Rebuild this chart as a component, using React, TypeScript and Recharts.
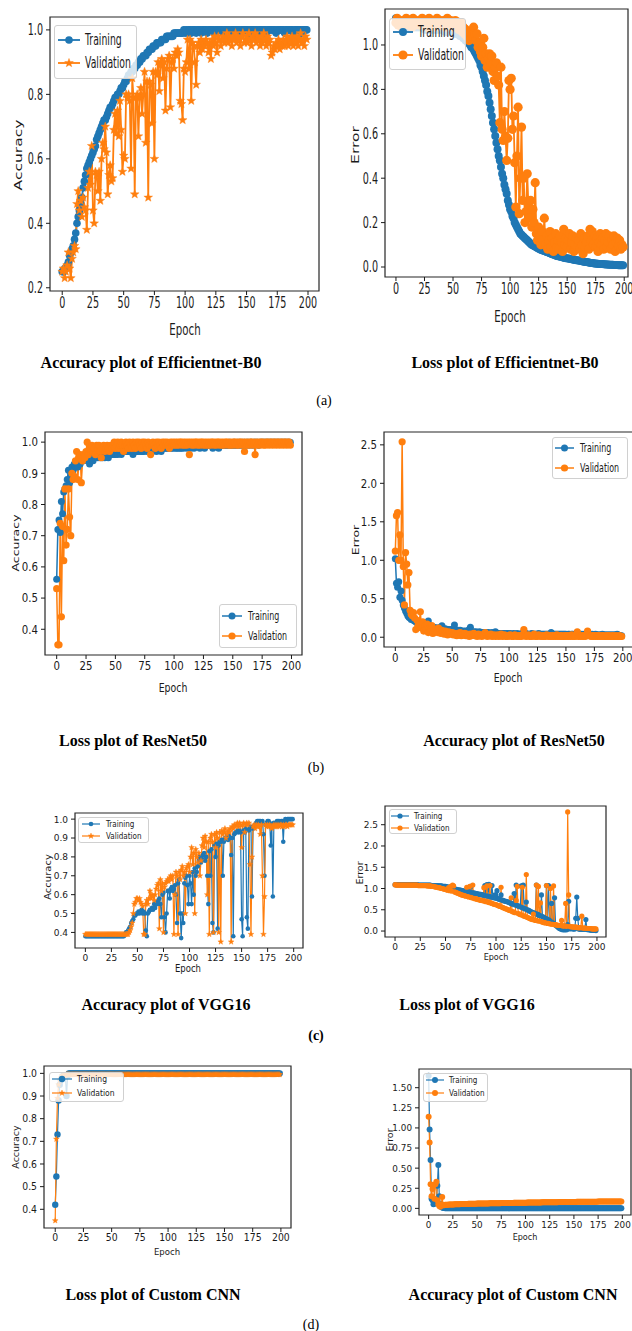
import React from 'react';
import { LineChart, Line, XAxis, YAxis, ReferenceArea } from 'recharts';

const BLUE = '#1f77b4';
const ORANGE = '#ff7f0e';
const INK = '#1a1a1a';
const FONT = '"DejaVu Sans", sans-serif';
const SERIF = '"Liberation Serif", "Times New Roman", serif';

const EPOCH_TICKS = [0, 25, 50, 75, 100, 125, 150, 175, 200];
const ACC_TICKS_A = [0.2, 0.4, 0.6, 0.8, 1.0];
const ACC_TICKS = [0.4, 0.5, 0.6, 0.7, 0.8, 0.9, 1.0];
const LOSS_TICKS_A = [0.0, 0.2, 0.4, 0.6, 0.8, 1.0];
const LOSS_TICKS = [0.0, 0.5, 1.0, 1.5, 2.0, 2.5];
const LOSS_TICKS_D = [0.0, 0.25, 0.5, 0.75, 1.0, 1.25, 1.5];

// (a) Efficientnet-B0
const effAccTrain = [
  0.25, 0.25, 0.26, 0.26, 0.27, 0.28, 0.30, 0.31, 0.32, 0.33,
  0.35, 0.37, 0.40, 0.42, 0.44, 0.46, 0.48, 0.51, 0.53, 0.55,
  0.57, 0.58, 0.59, 0.60, 0.61, 0.62, 0.63, 0.64, 0.66, 0.67,
  0.68, 0.69, 0.70, 0.71, 0.72, 0.72, 0.73, 0.74, 0.75, 0.76,
  0.76, 0.77, 0.78, 0.79, 0.79, 0.80, 0.80, 0.81, 0.82, 0.82,
  0.83, 0.84, 0.84, 0.85, 0.86, 0.86, 0.87, 0.87, 0.88, 0.88,
  0.89, 0.89, 0.90, 0.90, 0.91, 0.91, 0.92, 0.92, 0.92, 0.93,
  0.93, 0.94, 0.94, 0.94, 0.95, 0.95, 0.95, 0.96, 0.96, 0.96,
  0.96, 0.97, 0.97, 0.97, 0.97, 0.98, 0.98, 0.98, 0.98, 0.98,
  0.98, 0.99, 0.99, 0.99, 0.99, 0.99, 0.99, 0.99, 0.99, 1.0,
  0.99, 1.0, 0.99, 1.0, 1.0, 0.99, 1.0, 1.0, 1.0, 0.99,
  1.0, 1.0, 1.0, 0.99, 1.0, 1.0, 1.0, 1.0, 0.99, 1.0,
  1.0, 1.0, 1.0, 1.0, 0.99, 1.0, 1.0, 1.0, 1.0, 1.0,
  1.0, 0.99, 1.0, 1.0, 1.0, 1.0, 1.0, 0.99, 1.0, 1.0,
  1.0, 1.0, 1.0, 1.0, 1.0, 0.99, 1.0, 1.0, 1.0, 1.0,
  1.0, 1.0, 0.99, 1.0, 1.0, 1.0, 1.0, 1.0, 1.0, 0.99,
  1.0, 1.0, 1.0, 1.0, 1.0, 1.0, 0.99, 1.0, 1.0, 1.0,
  1.0, 1.0, 1.0, 1.0, 0.99, 1.0, 1.0, 1.0, 1.0, 1.0,
  1.0, 0.99, 1.0, 1.0, 1.0, 1.0, 1.0, 1.0, 0.99, 1.0,
  1.0, 1.0, 1.0, 1.0, 1.0, 0.99, 1.0, 1.0, 1.0, 1.0,
];
const effAccVal = [
  0.25, 0.26, 0.23, 0.25, 0.27, 0.31, 0.26, 0.23, 0.29, 0.31,
  0.33, 0.32, 0.46, 0.50, 0.44, 0.47, 0.42, 0.48, 0.45, 0.44,
  0.38, 0.51, 0.56, 0.52, 0.64, 0.44, 0.40, 0.56, 0.55, 0.50,
  0.56, 0.47, 0.60, 0.65, 0.63, 0.70, 0.62, 0.49, 0.55, 0.58,
  0.53, 0.54, 0.69, 0.74, 0.68, 0.75, 0.67, 0.78, 0.69, 0.56,
  0.61, 0.60, 0.80, 0.79, 0.80, 0.78, 0.57, 0.85, 0.79, 0.49,
  0.79, 0.80, 0.67, 0.79, 0.82, 0.74, 0.80, 0.87, 0.65, 0.84,
  0.48, 0.84, 0.83, 0.71, 0.87, 0.60, 0.87, 0.86, 0.90, 0.81,
  0.89, 0.91, 0.85, 0.90, 0.75, 0.88, 0.91, 0.92, 0.76, 0.90,
  0.91, 0.88, 0.93, 0.92, 0.94, 0.93, 0.78, 0.77, 0.72, 0.88,
  0.87, 0.90, 0.97, 0.88, 0.97, 0.78, 0.96, 0.95, 0.90, 0.83,
  0.95, 0.96, 0.93, 0.97, 0.94, 0.96, 0.95, 0.97, 0.96, 0.93,
  0.96, 0.91, 0.97, 0.95, 0.98, 0.96, 0.93, 0.98, 0.97, 0.95,
  0.97, 0.98, 0.96, 0.97, 0.99, 0.96, 0.98, 0.97, 0.95, 0.98,
  0.97, 0.99, 0.96, 0.98, 0.97, 0.95, 0.98, 0.99, 0.96, 0.97,
  0.98, 0.96, 0.99, 0.97, 0.95, 0.98, 0.97, 0.99, 0.96, 0.98,
  0.97, 0.95, 0.98, 0.96, 0.99, 0.97, 0.95, 0.98, 0.96, 0.97,
  0.92, 0.93, 0.95, 0.94, 0.96, 0.95, 0.97, 0.94, 0.96, 0.95,
  0.97, 0.95, 0.96, 0.98, 0.95, 0.97, 0.96, 0.98, 0.95, 0.97,
  0.96, 0.98, 0.95, 0.97, 0.99, 0.96, 0.97, 0.95, 0.98, 0.97,
];
const effLossTrain = [
  1.12, 1.10, 1.09, 1.09, 1.09, 1.08, 1.08, 1.08, 1.08, 1.08,
  1.08, 1.08, 1.08, 1.08, 1.08, 1.08, 1.08, 1.08, 1.08, 1.08,
  1.08, 1.08, 1.08, 1.08, 1.08, 1.07, 1.07, 1.07, 1.07, 1.07,
  1.07, 1.07, 1.07, 1.07, 1.07, 1.07, 1.07, 1.07, 1.07, 1.07,
  1.07, 1.07, 1.07, 1.06, 1.06, 1.06, 1.06, 1.06, 1.06, 1.06,
  1.06, 1.06, 1.05, 1.05, 1.05, 1.05, 1.04, 1.04, 1.04, 1.03,
  1.03, 1.02, 1.02, 1.01, 1.01, 1.00, 0.99, 0.99, 0.98, 0.97,
  0.96, 0.95, 0.94, 0.93, 0.91, 0.90, 0.88, 0.86, 0.84, 0.82,
  0.79, 0.77, 0.74, 0.71, 0.68, 0.65, 0.62, 0.59, 0.56, 0.53,
  0.50, 0.48, 0.45, 0.42, 0.40, 0.37, 0.35, 0.33, 0.30, 0.28,
  0.26, 0.25, 0.23, 0.22, 0.20, 0.19, 0.18, 0.17, 0.16, 0.15,
  0.145, 0.14, 0.135, 0.13, 0.125, 0.12, 0.115, 0.11, 0.105, 0.10,
  0.098, 0.095, 0.092, 0.089, 0.086, 0.083, 0.08, 0.078, 0.076, 0.074,
  0.072, 0.07, 0.068, 0.066, 0.064, 0.062, 0.06, 0.058, 0.056, 0.054,
  0.052, 0.05, 0.049, 0.048, 0.046, 0.045, 0.044, 0.042, 0.041, 0.04,
  0.039, 0.038, 0.037, 0.036, 0.035, 0.034, 0.033, 0.032, 0.031, 0.03,
  0.029, 0.028, 0.027, 0.026, 0.025, 0.024, 0.023, 0.022, 0.021, 0.02,
  0.019, 0.018, 0.018, 0.017, 0.016, 0.016, 0.015, 0.015, 0.014, 0.014,
  0.013, 0.013, 0.012, 0.012, 0.011, 0.011, 0.011, 0.01, 0.01, 0.01,
  0.01, 0.009, 0.009, 0.009, 0.009, 0.008, 0.008, 0.008, 0.008, 0.008,
];
const effLossVal = [
  1.10, 1.12, 1.09, 1.11, 1.10, 1.08, 1.11, 1.10, 1.09, 1.12,
  1.10, 1.09, 1.11, 1.10, 1.08, 1.12, 1.10, 1.09, 1.11, 1.10,
  1.09, 1.11, 1.10, 1.12, 1.09, 1.10, 1.11, 1.08, 1.10, 1.12,
  1.10, 1.09, 1.11, 1.10, 1.08, 1.10, 1.12, 1.09, 1.10, 1.11,
  1.09, 1.10, 1.11, 1.08, 1.10, 1.12, 1.09, 1.10, 1.11, 1.09,
  1.10, 1.08, 1.11, 1.09, 1.10, 1.07, 1.09, 1.10, 1.06, 1.08,
  1.05, 1.07, 1.04, 1.05, 1.02, 1.06, 1.03, 1.04, 1.08, 1.05,
  1.02, 1.05, 0.99, 1.01, 0.97, 0.95, 0.99, 1.03, 0.93, 0.96,
  0.90, 0.94, 0.96, 0.92, 0.95, 0.88, 0.84, 0.90, 0.92, 0.86,
  0.82, 0.65, 0.90, 0.62, 0.57, 0.70, 0.59, 0.48, 0.58, 0.84,
  0.80, 0.85, 0.62, 0.68, 0.47, 0.27, 0.50, 0.72, 0.24, 0.40,
  0.63, 0.30, 0.40, 0.20, 0.25, 0.42, 0.28, 0.22, 0.30, 0.18,
  0.26, 0.20, 0.38, 0.15, 0.12, 0.18, 0.14, 0.10, 0.16, 0.12,
  0.22, 0.10, 0.14, 0.08, 0.12, 0.16, 0.09, 0.13, 0.07, 0.11,
  0.15, 0.09, 0.12, 0.08, 0.14, 0.11, 0.07, 0.17, 0.10, 0.13,
  0.09, 0.12, 0.15, 0.08, 0.11, 0.14, 0.07, 0.10, 0.13, 0.09,
  0.12, 0.08, 0.15, 0.10, 0.06, 0.13, 0.09, 0.11, 0.14, 0.08,
  0.17, 0.12, 0.16, 0.10, 0.14, 0.09, 0.13, 0.07, 0.11, 0.15,
  0.10, 0.13, 0.08, 0.12, 0.15, 0.09, 0.11, 0.14, 0.08, 0.12,
  0.10, 0.14, 0.07, 0.11, 0.13, 0.09, 0.12, 0.08, 0.10, 0.09,
];

// (b) ResNet50
const resAccTrain = [
  0.56, 0.72, 0.75, 0.71, 0.81, 0.77, 0.84, 0.85, 0.86, 0.88,
  0.91, 0.87, 0.90, 0.92, 0.91, 0.93, 0.92, 0.93, 0.92, 0.94,
  0.93, 0.94, 0.95, 0.94, 0.95, 0.96, 0.95, 0.94, 0.93, 0.95,
  0.95, 0.94, 0.96, 0.95, 0.96, 0.95, 0.96, 0.95, 0.96, 0.95,
  0.96, 0.95, 0.96, 0.96, 0.95, 0.97, 0.96, 0.96, 0.97, 0.96,
  0.96, 0.97, 0.96, 0.97, 0.97, 0.96, 0.97, 0.97, 0.98, 0.97,
  0.97, 0.97, 0.98, 0.97, 0.97, 0.96, 0.97, 0.98, 0.97, 0.97,
  0.98, 0.97, 0.98, 0.97, 0.97, 0.98, 0.98, 0.97, 0.98, 0.98,
  0.98, 0.97, 0.98, 0.98, 0.98, 0.97, 0.98, 0.98, 0.98, 0.97,
  0.98, 0.98, 0.99, 0.98, 0.98, 0.98, 0.99, 0.98, 0.98, 0.99,
  0.98, 0.99, 0.98, 0.98, 0.99, 0.98, 0.98, 0.99, 0.98, 0.99,
  0.99, 0.98, 0.99, 0.99, 0.98, 0.99, 0.99, 0.98, 0.99, 0.99,
  0.99, 0.99, 0.98, 0.99, 0.99, 0.99, 0.98, 0.99, 0.99, 0.99,
  0.99, 0.99, 0.99, 0.98, 0.99, 0.99, 0.99, 0.99, 0.98, 0.99,
  0.99, 0.99, 0.99, 0.99, 0.99, 0.99, 0.99, 1.0, 0.99, 0.99,
  0.99, 1.0, 0.99, 0.99, 1.0, 0.99, 1.0, 0.99, 1.0, 0.99,
  1.0, 0.99, 1.0, 1.0, 0.99, 1.0, 1.0, 0.99, 1.0, 1.0,
  1.0, 1.0, 0.99, 1.0, 1.0, 1.0, 1.0, 1.0, 1.0, 1.0,
  1.0, 1.0, 1.0, 1.0, 1.0, 1.0, 1.0, 1.0, 1.0, 1.0,
  1.0, 1.0, 1.0, 1.0, 1.0, 1.0, 1.0, 1.0, 1.0, 1.0,
];
const resAccVal = [
  0.53, 0.35, 0.35, 0.74, 0.44, 0.73, 0.62, 0.85, 0.67, 0.72,
  0.85, 0.76, 0.70, 0.90, 0.88, 0.89, 0.94, 0.97, 0.88, 0.95,
  0.96, 0.87, 0.94, 0.96, 0.95, 0.97, 1.0, 0.96, 0.98, 0.97,
  0.99, 0.97, 0.98, 0.96, 0.99, 0.98, 0.99, 0.97, 0.95, 0.98,
  0.99, 0.97, 0.98, 0.99, 0.98, 0.97, 0.99, 0.98, 0.99, 1.0,
  0.98, 0.99, 1.0, 0.98, 0.99, 1.0, 0.99, 0.97, 0.99, 1.0,
  0.99, 0.98, 1.0, 0.99, 0.98, 1.0, 0.99, 0.98, 1.0, 0.99,
  1.0, 0.99, 0.98, 1.0, 0.99, 1.0, 0.99, 0.98, 1.0, 0.99,
  0.96, 0.99, 1.0, 0.99, 0.98, 1.0, 0.99, 1.0, 0.99, 0.98,
  1.0, 0.99, 1.0, 0.99, 1.0, 0.99, 0.98, 1.0, 0.99, 1.0,
  0.99, 1.0, 0.99, 1.0, 0.99, 1.0, 1.0, 0.99, 1.0, 0.99,
  1.0, 0.99, 1.0, 0.96, 1.0, 0.99, 1.0, 0.99, 1.0, 1.0,
  0.99, 1.0, 0.99, 1.0, 1.0, 0.99, 1.0, 0.99, 1.0, 0.99,
  1.0, 0.99, 1.0, 1.0, 0.99, 1.0, 0.99, 1.0, 1.0, 0.99,
  1.0, 0.99, 1.0, 0.99, 1.0, 1.0, 0.99, 1.0, 0.99, 1.0,
  0.99, 1.0, 1.0, 0.99, 1.0, 0.99, 1.0, 1.0, 0.99, 1.0,
  0.97, 1.0, 0.99, 1.0, 0.99, 1.0, 1.0, 0.99, 1.0, 0.96,
  1.0, 0.99, 1.0, 0.99, 1.0, 1.0, 0.99, 1.0, 0.99, 1.0,
  1.0, 0.99, 1.0, 1.0, 0.99, 1.0, 1.0, 0.99, 1.0, 1.0,
  0.99, 1.0, 1.0, 0.99, 1.0, 1.0, 0.99, 1.0, 1.0, 0.99,
];
const resLossTrain = [
  1.02, 0.70, 0.65, 0.72, 0.52, 0.60, 0.48, 0.42, 0.38, 0.34,
  0.31, 0.28, 0.26, 0.25, 0.23, 0.24, 0.22, 0.21, 0.20, 0.19,
  0.18, 0.17, 0.18, 0.16, 0.15, 0.16, 0.14, 0.15, 0.17, 0.21,
  0.14, 0.13, 0.14, 0.12, 0.13, 0.11, 0.12, 0.12, 0.11, 0.12,
  0.13, 0.15, 0.11, 0.10, 0.11, 0.10, 0.09, 0.10, 0.09, 0.10,
  0.09, 0.10, 0.16, 0.09, 0.08, 0.09, 0.08, 0.09, 0.08, 0.07,
  0.08, 0.07, 0.08, 0.07, 0.08, 0.10, 0.13, 0.07, 0.06, 0.07,
  0.06, 0.07, 0.06, 0.06, 0.07, 0.06, 0.05, 0.06, 0.06, 0.05,
  0.06, 0.05, 0.06, 0.05, 0.05, 0.06, 0.05, 0.05, 0.07, 0.05,
  0.05, 0.05, 0.04, 0.05, 0.05, 0.04, 0.05, 0.04, 0.05, 0.05,
  0.04, 0.05, 0.04, 0.04, 0.05, 0.04, 0.04, 0.05, 0.04, 0.04,
  0.04, 0.05, 0.04, 0.04, 0.04, 0.05, 0.04, 0.04, 0.04, 0.04,
  0.05, 0.04, 0.04, 0.04, 0.04, 0.04, 0.05, 0.04, 0.04, 0.04,
  0.04, 0.04, 0.04, 0.04, 0.04, 0.04, 0.04, 0.06, 0.04, 0.04,
  0.04, 0.04, 0.04, 0.04, 0.04, 0.04, 0.04, 0.04, 0.04, 0.04,
  0.04, 0.03, 0.04, 0.04, 0.03, 0.04, 0.04, 0.03, 0.04, 0.04,
  0.03, 0.04, 0.04, 0.03, 0.04, 0.03, 0.04, 0.03, 0.04, 0.05,
  0.04, 0.03, 0.03, 0.04, 0.03, 0.03, 0.04, 0.03, 0.03, 0.03,
  0.03, 0.03, 0.04, 0.03, 0.03, 0.03, 0.03, 0.03, 0.03, 0.03,
  0.03, 0.03, 0.03, 0.03, 0.03, 0.04, 0.03, 0.02, 0.02, 0.02,
];
const resLossVal = [
  1.12, 1.58, 1.62, 1.00, 1.33, 1.00, 2.54, 0.92, 0.42, 1.10,
  0.95, 0.68, 0.84, 0.35, 0.30, 0.28, 0.32, 0.25, 0.10, 0.22,
  0.15, 0.18, 0.33, 0.12, 0.20, 0.08, 0.14, 0.10, 0.17, 0.06,
  0.12, 0.09, 0.15, 0.05, 0.11, 0.07, 0.10, 0.06, 0.12, 0.08,
  0.05, 0.09, 0.07, 0.04, 0.08, 0.06, 0.03, 0.07, 0.05, 0.04,
  0.06, 0.03, 0.05, 0.04, 0.02, 0.05, 0.03, 0.06, 0.02, 0.04,
  0.03, 0.05, 0.02, 0.04, 0.03, 0.01, 0.04, 0.02, 0.03, 0.05,
  0.02, 0.03, 0.01, 0.04, 0.02, 0.03, 0.01, 0.03, 0.02, 0.06,
  0.02, 0.01, 0.03, 0.02, 0.04, 0.01, 0.02, 0.03, 0.01, 0.02,
  0.03, 0.01, 0.02, 0.04, 0.01, 0.02, 0.03, 0.01, 0.02, 0.01,
  0.02, 0.03, 0.01, 0.02, 0.01, 0.03, 0.02, 0.01, 0.02, 0.01,
  0.02, 0.01, 0.03, 0.10, 0.02, 0.01, 0.02, 0.03, 0.01, 0.02,
  0.01, 0.02, 0.04, 0.01, 0.02, 0.01, 0.03, 0.02, 0.01, 0.02,
  0.01, 0.02, 0.01, 0.03, 0.02, 0.01, 0.02, 0.01, 0.02, 0.01,
  0.02, 0.01, 0.03, 0.01, 0.02, 0.01, 0.02, 0.01, 0.01, 0.02,
  0.01, 0.02, 0.01, 0.02, 0.01, 0.03, 0.01, 0.02, 0.01, 0.02,
  0.07, 0.01, 0.02, 0.01, 0.02, 0.01, 0.02, 0.01, 0.03, 0.08,
  0.03, 0.02, 0.01, 0.02, 0.01, 0.02, 0.01, 0.02, 0.01, 0.02,
  0.01, 0.02, 0.01, 0.02, 0.01, 0.01, 0.02, 0.01, 0.02, 0.01,
  0.01, 0.02, 0.01, 0.01, 0.02, 0.01, 0.01, 0.02, 0.01, 0.01,
];

// (c) VGG16
const vggAccTrain = [
  0.38, 0.38, 0.38, 0.38, 0.38, 0.38, 0.38, 0.38, 0.38, 0.38,
  0.38, 0.38, 0.38, 0.38, 0.38, 0.38, 0.38, 0.38, 0.38, 0.38,
  0.38, 0.38, 0.38, 0.38, 0.38, 0.38, 0.38, 0.38, 0.38, 0.38,
  0.38, 0.38, 0.38, 0.38, 0.38, 0.38, 0.38, 0.38, 0.39, 0.40,
  0.40, 0.41, 0.42, 0.43, 0.45, 0.46, 0.47, 0.49, 0.49, 0.50,
  0.50, 0.51, 0.50, 0.51, 0.52, 0.50, 0.51, 0.50, 0.41, 0.38,
  0.50, 0.51, 0.52, 0.52, 0.53, 0.52, 0.55, 0.53, 0.56, 0.55,
  0.57, 0.58, 0.55, 0.48, 0.60, 0.61, 0.48, 0.40, 0.50, 0.62,
  0.62, 0.58, 0.63, 0.64, 0.62, 0.63, 0.65, 0.60, 0.45, 0.66,
  0.68, 0.50, 0.37, 0.50, 0.45, 0.66, 0.69, 0.70, 0.65, 0.55,
  0.70, 0.66, 0.55, 0.72, 0.60, 0.74, 0.70, 0.72, 0.75, 0.78,
  0.80, 0.77, 0.79, 0.81, 0.82, 0.78, 0.80, 0.70, 0.55, 0.83,
  0.70, 0.84, 0.45, 0.40, 0.86, 0.80, 0.87, 0.42, 0.86, 0.88,
  0.88, 0.89, 0.70, 0.88, 0.90, 0.90, 0.91, 0.89, 0.91, 0.90,
  0.81, 0.90, 0.38, 0.92, 0.93, 0.93, 0.94, 0.93, 0.94, 0.93,
  0.47, 0.38, 0.94, 0.93, 0.95, 0.48, 0.42, 0.94, 0.95, 0.96,
  0.59, 0.95, 0.96, 0.97, 0.98, 0.99, 0.99, 0.99, 0.99, 0.98,
  0.99, 0.92, 0.70, 0.97, 0.98, 0.99, 0.99, 0.98, 0.86, 0.97,
  0.59, 0.98, 0.97, 0.98, 0.99, 0.99, 0.99, 0.98, 0.99, 0.99,
  0.88, 0.99, 1.0, 0.99, 1.0, 1.0, 1.0, 1.0, 1.0, 1.0,
];
const vggAccVal = [
  0.39, 0.39, 0.39, 0.39, 0.39, 0.39, 0.39, 0.39, 0.39, 0.39,
  0.39, 0.39, 0.39, 0.39, 0.39, 0.39, 0.39, 0.39, 0.39, 0.39,
  0.39, 0.39, 0.39, 0.39, 0.39, 0.39, 0.39, 0.39, 0.39, 0.39,
  0.39, 0.39, 0.39, 0.39, 0.39, 0.39, 0.39, 0.39, 0.39, 0.39,
  0.39, 0.39, 0.40, 0.41, 0.43, 0.45, 0.50, 0.55, 0.56, 0.58,
  0.58, 0.57, 0.58, 0.56, 0.55, 0.54, 0.39, 0.39, 0.55, 0.57,
  0.55, 0.58, 0.62, 0.58, 0.60, 0.59, 0.57, 0.60, 0.63, 0.65,
  0.66, 0.42, 0.68, 0.62, 0.66, 0.40, 0.64, 0.66, 0.67, 0.68,
  0.67, 0.69, 0.70, 0.68, 0.70, 0.39, 0.60, 0.72, 0.70, 0.39,
  0.72, 0.68, 0.73, 0.75, 0.70, 0.72, 0.50, 0.74, 0.75, 0.76,
  0.72, 0.80, 0.85, 0.76, 0.82, 0.50, 0.84, 0.80, 0.77, 0.82,
  0.70, 0.78, 0.86, 0.90, 0.85, 0.91, 0.88, 0.60, 0.88, 0.39,
  0.90, 0.92, 0.88, 0.40, 0.92, 0.85, 0.93, 0.90, 0.40, 0.93,
  0.35, 0.94, 0.92, 0.93, 0.95, 0.90, 0.92, 0.94, 0.93, 0.95,
  0.35, 0.96, 0.95, 0.97, 0.96, 0.97, 0.98, 0.96, 0.98, 0.97,
  0.85, 0.97, 0.98, 0.93, 0.97, 0.98, 0.97, 0.98, 0.76, 0.39,
  0.80, 0.96, 0.97, 0.95, 0.97, 0.96, 0.97, 0.96, 0.92, 0.97,
  0.70, 0.39, 0.59, 0.97, 0.96, 0.97, 0.96, 0.97, 0.96, 0.95,
  0.96, 0.97, 0.96, 0.97, 0.96, 0.97, 0.96, 0.97, 0.97, 0.96,
  0.97, 0.96, 0.97, 0.97, 0.96, 0.97, 0.97, 0.97, 0.97, 0.97,
];
const vggLossTrain = [
  1.09, 1.09, 1.09, 1.09, 1.09, 1.09, 1.09, 1.09, 1.09, 1.09,
  1.09, 1.09, 1.09, 1.09, 1.09, 1.09, 1.09, 1.09, 1.09, 1.09,
  1.09, 1.09, 1.09, 1.08, 1.08, 1.08, 1.08, 1.08, 1.08, 1.08,
  1.08, 1.08, 1.08, 1.08, 1.08, 1.08, 1.07, 1.07, 1.07, 1.07,
  1.07, 1.07, 1.07, 1.06, 1.06, 1.06, 1.06, 1.05, 1.05, 1.05,
  1.05, 1.04, 1.04, 1.03, 1.03, 1.02, 1.02, 1.01, 1.00, 0.99,
  0.98, 0.98, 0.97, 0.97, 0.96, 0.96, 0.95, 0.95, 0.94, 0.94,
  0.93, 0.93, 0.92, 0.92, 0.91, 1.05, 0.90, 0.90, 0.89, 0.89,
  0.88, 0.88, 0.87, 0.87, 0.86, 0.86, 0.85, 0.85, 0.84, 1.07,
  0.83, 1.09, 0.82, 1.10, 0.81, 0.80, 1.07, 0.79, 0.78, 0.85,
  0.77, 0.95, 0.76, 0.75, 0.74, 0.85, 0.73, 0.72, 0.71, 0.70,
  0.70, 0.69, 0.68, 0.67, 0.66, 0.65, 0.64, 0.63, 0.88, 0.61,
  1.08, 0.60, 0.59, 0.58, 0.57, 1.06, 0.55, 1.08, 0.53, 0.52,
  0.68, 0.50, 0.49, 0.48, 0.46, 0.45, 0.44, 0.43, 0.42, 0.41,
  1.08, 0.40, 0.38, 0.37, 0.36, 0.85, 0.34, 0.33, 0.31, 0.30,
  1.07, 0.28, 1.07, 0.25, 0.23, 0.65, 0.20, 0.18, 0.78, 0.14,
  0.12, 0.10, 0.08, 0.06, 0.05, 0.04, 0.03, 0.03, 0.03, 0.03,
  0.03, 0.15, 0.70, 0.05, 0.06, 0.06, 0.05, 0.05, 0.05, 0.30,
  0.80, 0.30, 0.05, 0.04, 0.05, 0.04, 0.04, 0.05, 0.04, 0.27,
  0.04, 0.03, 0.03, 0.03, 0.02, 0.02, 0.02, 0.02, 0.02, 0.01,
];
const vggLossVal = [
  1.09, 1.08, 1.08, 1.08, 1.08, 1.08, 1.08, 1.08, 1.08, 1.08,
  1.08, 1.08, 1.08, 1.08, 1.08, 1.08, 1.08, 1.08, 1.08, 1.08,
  1.08, 1.08, 1.08, 1.07, 1.07, 1.07, 1.07, 1.07, 1.07, 1.07,
  1.07, 1.07, 1.06, 1.06, 1.06, 1.06, 1.05, 1.05, 1.05, 1.04,
  1.04, 1.03, 1.03, 1.02, 1.02, 1.01, 1.00, 1.00, 0.99, 0.98,
  0.98, 0.97, 0.96, 1.02, 0.95, 1.05, 0.94, 1.08, 1.06, 0.92,
  0.91, 0.90, 0.89, 0.88, 0.87, 0.86, 0.85, 0.84, 0.84, 0.83,
  0.82, 1.03, 0.81, 0.80, 1.05, 0.79, 0.78, 1.08, 0.77, 0.76,
  0.76, 0.75, 0.74, 0.74, 0.73, 0.72, 0.72, 0.71, 1.02, 0.70,
  0.69, 1.06, 0.68, 0.67, 1.07, 0.66, 0.65, 0.64, 0.63, 0.63,
  0.62, 0.61, 0.60, 0.59, 0.58, 1.03, 0.56, 0.55, 0.54, 0.53,
  0.52, 0.51, 0.50, 0.49, 0.48, 0.78, 0.46, 0.45, 0.44, 0.43,
  0.72, 1.05, 0.41, 0.40, 0.39, 0.38, 1.03, 0.36, 0.35, 0.34,
  1.33, 0.32, 0.31, 0.30, 0.29, 0.28, 0.27, 0.40, 0.26, 0.25,
  1.08, 0.24, 1.05, 0.23, 0.66, 0.22, 0.21, 0.20, 0.20, 0.19,
  1.07, 0.18, 0.18, 0.17, 1.00, 0.16, 0.16, 1.06, 0.15, 0.15,
  0.14, 0.14, 0.13, 0.13, 0.13, 0.25, 0.12, 0.12, 0.12, 0.65,
  0.11, 2.80, 0.85, 0.11, 0.10, 0.10, 0.10, 0.09, 0.09, 0.09,
  0.09, 0.08, 0.08, 0.08, 0.08, 0.35, 0.07, 0.07, 0.07, 0.07,
  0.06, 0.06, 0.06, 0.06, 0.06, 0.05, 0.05, 0.05, 0.05, 0.05,
];

// (d) Custom CNN
const cnnAccTrain = [
  0.42, 0.545, 0.73, 0.88, 0.95, 0.97, 0.98, 0.99, 0.99, 0.99,
  0.90, 0.99, 1, 1, 1, 1, 1, 1, 1, 1,
  1, 1, 1, 1, 1, 1, 1, 1, 1, 1,
  1, 1, 1, 1, 1, 1, 1, 1, 1, 1,
  1, 1, 1, 1, 1, 1, 1, 1, 1, 1,
  1, 1, 1, 1, 1, 1, 1, 1, 1, 1,
  1, 1, 1, 1, 1, 1, 1, 1, 1, 1,
  1, 1, 1, 1, 1, 1, 1, 1, 1, 1,
  1, 1, 1, 1, 1, 1, 1, 1, 1, 1,
  1, 1, 1, 1, 1, 1, 1, 1, 1, 1,
  1, 1, 1, 1, 1, 1, 1, 1, 1, 1,
  1, 1, 1, 1, 1, 1, 1, 1, 1, 1,
  1, 1, 1, 1, 1, 1, 1, 1, 1, 1,
  1, 1, 1, 1, 1, 1, 1, 1, 1, 1,
  1, 1, 1, 1, 1, 1, 1, 1, 1, 1,
  1, 1, 1, 1, 1, 1, 1, 1, 1, 1,
  1, 1, 1, 1, 1, 1, 1, 1, 1, 1,
  1, 1, 1, 1, 1, 1, 1, 1, 1, 1,
  1, 1, 1, 1, 1, 1, 1, 1, 1, 1,
  1, 1, 1, 1, 1, 1, 1, 1, 1, 1,
];
const cnnAccVal = [
  0.35, 0.71, 0.89, 0.95, 0.97, 0.98, 0.99, 0.99, 0.99, 0.99,
  0.995, 0.995, 0.995, 0.995, 0.995, 0.995, 0.995, 0.995, 0.995, 0.995,
  0.995, 0.995, 0.995, 0.995, 0.995, 0.995, 0.995, 0.995, 0.995, 0.995,
  0.995, 0.995, 0.995, 0.995, 0.995, 0.995, 0.995, 0.995, 0.995, 0.995,
  0.995, 0.995, 0.995, 0.995, 0.995, 0.995, 0.995, 0.995, 0.995, 0.995,
  0.995, 0.995, 0.995, 0.995, 0.995, 0.995, 0.995, 0.995, 0.995, 0.995,
  0.995, 0.995, 0.995, 0.995, 0.995, 0.995, 0.995, 0.995, 0.995, 0.995,
  0.995, 0.995, 0.995, 0.995, 0.995, 0.995, 0.995, 0.995, 0.995, 0.995,
  0.995, 0.995, 0.995, 0.995, 0.995, 0.995, 0.995, 0.995, 0.995, 0.995,
  0.995, 0.995, 0.995, 0.995, 0.995, 0.995, 0.995, 0.995, 0.995, 0.995,
  0.995, 0.995, 0.995, 0.995, 0.995, 0.995, 0.995, 0.995, 0.995, 0.995,
  0.995, 0.995, 0.995, 0.995, 0.995, 0.995, 0.995, 0.995, 0.995, 0.995,
  0.995, 0.995, 0.995, 0.995, 0.995, 0.995, 0.995, 0.995, 0.995, 0.995,
  0.995, 0.995, 0.995, 0.995, 0.995, 0.995, 0.995, 0.995, 0.995, 0.995,
  0.995, 0.995, 0.995, 0.995, 0.995, 0.995, 0.995, 0.995, 0.995, 0.995,
  0.995, 0.995, 0.995, 0.995, 0.995, 0.995, 0.995, 0.995, 0.995, 0.995,
  0.995, 0.995, 0.995, 0.995, 0.995, 0.995, 0.995, 0.995, 0.995, 0.995,
  0.995, 0.995, 0.995, 0.995, 0.995, 0.995, 0.995, 0.995, 0.995, 0.995,
  0.995, 0.995, 0.995, 0.995, 0.995, 0.995, 0.995, 0.995, 0.995, 0.995,
  0.995, 0.995, 0.995, 0.995, 0.995, 0.995, 0.995, 0.995, 0.995, 0.995,
];
const cnnLossTrain = [
  1.65, 0.98, 0.60, 0.12, 0.10, 0.05, 0.06, 0.08, 0.10, 0.28,
  0.54, 0.15, 0.05, 0.02, 0.01, 0.005, 0.003, 0.002, 0.002, 0.002,
  0.001, 0.001, 0.001, 0.001, 0.001, 0.001, 0.001, 0.001, 0.001, 0.001,
  0.001, 0.001, 0.001, 0.001, 0.001, 0.001, 0.001, 0.001, 0.001, 0.001,
  0.001, 0.001, 0.001, 0.001, 0.001, 0.001, 0.001, 0.001, 0.001, 0.001,
  0.001, 0.001, 0.001, 0.001, 0.001, 0.001, 0.001, 0.001, 0.001, 0.001,
  0.001, 0.001, 0.001, 0.001, 0.001, 0.001, 0.001, 0.001, 0.001, 0.001,
  0.001, 0.001, 0.001, 0.001, 0.001, 0.001, 0.001, 0.001, 0.001, 0.001,
  0.001, 0.001, 0.001, 0.001, 0.001, 0.001, 0.001, 0.001, 0.001, 0.001,
  0.001, 0.001, 0.001, 0.001, 0.001, 0.001, 0.001, 0.001, 0.001, 0.001,
  0.001, 0.001, 0.001, 0.001, 0.001, 0.001, 0.001, 0.001, 0.001, 0.001,
  0.001, 0.001, 0.001, 0.001, 0.001, 0.001, 0.001, 0.001, 0.001, 0.001,
  0.001, 0.001, 0.001, 0.001, 0.001, 0.001, 0.001, 0.001, 0.001, 0.001,
  0.001, 0.001, 0.001, 0.001, 0.001, 0.001, 0.001, 0.001, 0.001, 0.001,
  0.001, 0.001, 0.001, 0.001, 0.001, 0.001, 0.001, 0.001, 0.001, 0.001,
  0.001, 0.001, 0.001, 0.001, 0.001, 0.001, 0.001, 0.001, 0.001, 0.001,
  0.001, 0.001, 0.001, 0.001, 0.001, 0.001, 0.001, 0.001, 0.001, 0.001,
  0.001, 0.001, 0.001, 0.001, 0.001, 0.001, 0.001, 0.001, 0.001, 0.001,
  0.001, 0.001, 0.001, 0.001, 0.001, 0.001, 0.001, 0.001, 0.001, 0.001,
  0.001, 0.001, 0.001, 0.001, 0.001, 0.001, 0.001, 0.001, 0.001, 0.001,
];
const cnnLossVal = [
  1.14, 0.82, 0.30, 0.15, 0.24, 0.28, 0.12, 0.30, 0.33, 0.10,
  0.05, 0.03, 0.02, 0.05, 0.14, 0.04, 0.04, 0.045, 0.045, 0.045,
  0.046, 0.047, 0.047, 0.048, 0.048, 0.049, 0.049, 0.050, 0.050, 0.051,
  0.051, 0.052, 0.052, 0.053, 0.053, 0.054, 0.054, 0.054, 0.055, 0.055,
  0.055, 0.056, 0.056, 0.056, 0.057, 0.057, 0.057, 0.058, 0.058, 0.058,
  0.059, 0.059, 0.059, 0.060, 0.060, 0.060, 0.061, 0.061, 0.061, 0.062,
  0.062, 0.062, 0.062, 0.063, 0.063, 0.063, 0.063, 0.064, 0.064, 0.064,
  0.064, 0.065, 0.065, 0.065, 0.065, 0.066, 0.066, 0.066, 0.066, 0.067,
  0.067, 0.067, 0.067, 0.068, 0.068, 0.068, 0.068, 0.068, 0.069, 0.069,
  0.069, 0.069, 0.070, 0.070, 0.070, 0.070, 0.070, 0.071, 0.071, 0.071,
  0.071, 0.071, 0.072, 0.072, 0.072, 0.072, 0.072, 0.073, 0.073, 0.073,
  0.073, 0.073, 0.074, 0.074, 0.074, 0.074, 0.074, 0.075, 0.075, 0.075,
  0.075, 0.075, 0.075, 0.076, 0.076, 0.076, 0.076, 0.076, 0.077, 0.077,
  0.077, 0.077, 0.077, 0.077, 0.078, 0.078, 0.078, 0.078, 0.078, 0.078,
  0.079, 0.079, 0.079, 0.079, 0.079, 0.079, 0.080, 0.080, 0.080, 0.080,
  0.080, 0.080, 0.080, 0.081, 0.081, 0.081, 0.081, 0.081, 0.081, 0.081,
  0.082, 0.082, 0.082, 0.082, 0.082, 0.082, 0.082, 0.083, 0.083, 0.083,
  0.083, 0.083, 0.083, 0.083, 0.083, 0.084, 0.084, 0.084, 0.084, 0.084,
  0.084, 0.084, 0.084, 0.084, 0.085, 0.085, 0.085, 0.085, 0.085, 0.085,
  0.085, 0.085, 0.085, 0.085, 0.086, 0.086, 0.086, 0.086, 0.086, 0.086,
];

type LegendCfg = { x: number; y: number; w: number; h: number; rows: [number, number]; line: [number, number]; textX: number; fs: number; sx: number };
type Panel = {
  id: string;
  box: [number, number, number, number];
  xDomain: [number, number];
  yDomain: [number, number];
  yTicks: number[];
  digits: number;
  yLabel: string;
  yLabelPos: [number, number];
  xLabelPos: [number, number];
  labelFs: number;
  labelSx: number;
  tickFs: number;
  tickSx: number;
  train: number[];
  val: number[];
  valStar: boolean;
  rTrain: number;
  rVal: number;
  lw: number;
  legend: LegendCfg;
};

const STD_X: [number, number] = [-9.95, 208.95];

const panels: Panel[] = [
  {
    id: 'effAcc', box: [50, 17, 319, 291], xDomain: STD_X, yDomain: [0.19, 1.04], yTicks: ACC_TICKS_A, digits: 1,
    yLabel: 'Accuracy', yLabelPos: [19, 155], xLabelPos: [185, 331], labelFs: 15.5, labelSx: 0.66, tickFs: 15, tickSx: 0.64,
    train: effAccTrain, val: effAccVal, valStar: true, rTrain: 3.8, rVal: 4.6, lw: 1.8,
    legend: { x: 54, y: 25, w: 83, h: 54, rows: [40, 63], line: [58, 80], textX: 85, fs: 15, sx: 0.62 },
  },
  {
    id: 'effLoss', box: [385, 9, 628, 277], xDomain: [-9.6, 203.3], yDomain: [-0.045, 1.162], yTicks: LOSS_TICKS_A, digits: 1,
    yLabel: 'Error', yLabelPos: [356, 145], xLabelPos: [510, 318], labelFs: 15.5, labelSx: 0.66, tickFs: 15, tickSx: 0.64,
    train: effLossTrain, val: effLossVal, valStar: false, rTrain: 4, rVal: 4.6, lw: 1.8,
    legend: { x: 389, y: 18, w: 77, h: 52, rows: [32, 55], line: [393, 413], textX: 418, fs: 15, sx: 0.62 },
  },
  {
    id: 'resAcc', box: [45, 432, 302, 655], xDomain: STD_X, yDomain: [0.3175, 1.0325], yTicks: ACC_TICKS, digits: 1,
    yLabel: 'Accuracy', yLabelPos: [16, 543], xLabelPos: [173, 688], labelFs: 12.5, labelSx: 0.75, tickFs: 12, tickSx: 0.85,
    train: resAccTrain, val: resAccVal, valStar: false, rTrain: 3.5, rVal: 3.6, lw: 1.5,
    legend: { x: 219, y: 604, w: 78, h: 44, rows: [616, 636], line: [222, 242], textX: 248, fs: 12, sx: 0.66 },
  },
  {
    id: 'resLoss', box: [384, 432, 633, 647], xDomain: STD_X, yDomain: [-0.127, 2.667], yTicks: LOSS_TICKS, digits: 1,
    yLabel: 'Error', yLabelPos: [356, 540], xLabelPos: [508, 678], labelFs: 12.5, labelSx: 0.75, tickFs: 12, tickSx: 0.85,
    train: resLossTrain, val: resLossVal, valStar: false, rTrain: 3.5, rVal: 3.6, lw: 1.5,
    legend: { x: 552, y: 437, w: 76, h: 42, rows: [448, 468], line: [555, 574], textX: 580, fs: 12, sx: 0.66 },
  },
  {
    id: 'vggAcc', box: [75, 813, 303, 948], xDomain: STD_X, yDomain: [0.3175, 1.0325], yTicks: ACC_TICKS, digits: 1,
    yLabel: 'Accuracy', yLabelPos: [48, 877], xLabelPos: [188, 969], labelFs: 10, labelSx: 0.85, tickFs: 9.5, tickSx: 0.95,
    train: vggAccTrain, val: vggAccVal, valStar: true, rTrain: 2.3, rVal: 3, lw: 1.2,
    legend: { x: 78, y: 817, w: 71, h: 26, rows: [824, 836], line: [82, 100], textX: 106, fs: 9, sx: 0.8 },
  },
  {
    id: 'vggLoss', box: [385, 806, 606, 937], xDomain: STD_X, yDomain: [-0.14, 2.94], yTicks: LOSS_TICKS, digits: 1,
    yLabel: 'Error', yLabelPos: [360, 873], xLabelPos: [496, 957], labelFs: 9.5, labelSx: 0.85, tickFs: 9.5, tickSx: 0.95,
    train: vggLossTrain, val: vggLossVal, valStar: false, rTrain: 2.6, rVal: 2.6, lw: 1.2,
    legend: { x: 389, y: 809, w: 68, h: 25, rows: [816, 828], line: [391, 409], textX: 414, fs: 9, sx: 0.8 },
  },
  {
    id: 'cnnAcc', box: [44, 1066, 291, 1228], xDomain: STD_X, yDomain: [0.3175, 1.0325], yTicks: ACC_TICKS, digits: 1,
    yLabel: 'Accuracy', yLabelPos: [16, 1147], xLabelPos: [167, 1252], labelFs: 9.5, labelSx: 0.9, tickFs: 10, tickSx: 0.93,
    train: cnnAccTrain, val: cnnAccVal, valStar: true, rTrain: 3.2, rVal: 3, lw: 1.2,
    legend: { x: 49, y: 1072, w: 75, h: 30, rows: [1079, 1093], line: [52, 72], textX: 77, fs: 9.5, sx: 0.8 },
  },
  {
    id: 'cnnLoss', box: [419, 1069, 631, 1215], xDomain: STD_X, yDomain: [-0.0825, 1.7325], yTicks: LOSS_TICKS_D, digits: 2,
    yLabel: 'Error', yLabelPos: [390, 1140], xLabelPos: [525, 1237], labelFs: 9.5, labelSx: 0.85, tickFs: 9.5, tickSx: 0.93,
    train: cnnLossTrain, val: cnnLossVal, valStar: false, rTrain: 3, rVal: 3, lw: 1.2,
    legend: { x: 423, y: 1073, w: 65, h: 29, rows: [1080, 1093], line: [426, 444], textX: 449, fs: 9, sx: 0.8 },
  },
];

const captions = [
  { text: 'Accuracy plot of Efficientnet-B0', x: 151, y: 363, bold: true, fs: 16 },
  { text: 'Loss plot of Efficientnet-B0', x: 505, y: 363, bold: true, fs: 16 },
  { text: '(a)', x: 324, y: 401, bold: false, fs: 14 },
  { text: 'Loss plot of ResNet50', x: 133, y: 741, bold: true, fs: 16 },
  { text: 'Accuracy plot of ResNet50', x: 514, y: 741, bold: true, fs: 16 },
  { text: '(b)', x: 316, y: 768, bold: false, fs: 14 },
  { text: 'Accuracy plot of VGG16', x: 166, y: 1005, bold: true, fs: 16 },
  { text: 'Loss plot of VGG16', x: 467, y: 1005, bold: true, fs: 16 },
  { text: '(c)', x: 316, y: 1036, bold: true, fs: 14 },
  { text: 'Loss plot of Custom CNN', x: 153, y: 1295, bold: true, fs: 16 },
  { text: 'Accuracy plot of Custom CNN', x: 513, y: 1295, bold: true, fs: 16 },
  { text: '(d)', x: 311, y: 1325, bold: false, fs: 14 },
];

const PAD_L = 45;
const PAD_T = 8;
const PAD_R = 8;
const PAD_B = 30;

function starD(cx: number, cy: number, r: number) {
  const pts: string[] = [];
  for (let i = 0; i < 10; i++) {
    const a = -Math.PI / 2 + (i * Math.PI) / 5;
    const rr = i % 2 === 0 ? r : r * 0.42;
    pts.push(`${(cx + rr * Math.cos(a)).toFixed(2)},${(cy + rr * Math.sin(a)).toFixed(2)}`);
  }
  return 'M' + pts.join('L') + 'Z';
}

function PanelChart({ p }: { p: Panel }) {
  const [L, T, R, B] = p.box;
  const rows = p.train.map((t, i) => ({ epoch: i, train: t, val: p.val[i] }));

  const xTick = (props: any) => (
    <text
      transform={`translate(${props.x},${props.y}) scale(${p.tickSx},1)`}
      textAnchor="middle"
      dy="0.74em"
      fontSize={p.tickFs}
      fontFamily={FONT}
      fill={INK}
    >
      {props.payload.value}
    </text>
  );
  const yTick = (props: any) => (
    <text
      transform={`translate(${props.x},${props.y}) scale(${p.tickSx},1)`}
      textAnchor="end"
      dy="0.36em"
      fontSize={p.tickFs}
      fontFamily={FONT}
      fill={INK}
    >
      {Number(props.payload.value).toFixed(p.digits)}
    </text>
  );
  const starDot = (d: any) =>
    d.cx == null ? (
      <g key={`s${d.index}`} />
    ) : (
      <path key={`s${d.index}`} d={starD(d.cx, d.cy, p.rVal)} fill={ORANGE} stroke={ORANGE} strokeWidth={0.4} />
    );

  return (
    <div style={{ position: 'absolute', left: L - PAD_L, top: T - PAD_T }}>
      <LineChart
        width={R - L + PAD_L + PAD_R}
        height={B - T + PAD_T + PAD_B}
        data={rows}
        margin={{ top: PAD_T, right: PAD_R, left: 0, bottom: 0 }}
      >
        <XAxis
          type="number"
          dataKey="epoch"
          domain={p.xDomain}
          allowDataOverflow
          ticks={EPOCH_TICKS}
          interval={0}
          height={PAD_B}
          tickSize={4}
          tickMargin={2}
          tick={xTick}
          tickLine={{ stroke: INK }}
          axisLine={false}
        />
        <YAxis
          type="number"
          domain={p.yDomain}
          allowDataOverflow
          ticks={p.yTicks}
          interval={0}
          width={PAD_L}
          tickSize={4}
          tickMargin={3}
          tick={yTick}
          tickLine={{ stroke: INK }}
          axisLine={false}
        />
        <Line
          dataKey="train"
          stroke={BLUE}
          strokeWidth={p.lw}
          dot={{ r: p.rTrain, fill: BLUE, stroke: BLUE, strokeWidth: 0 }}
          activeDot={false}
          isAnimationActive={false}
        />
        <Line
          dataKey="val"
          stroke={ORANGE}
          strokeWidth={p.lw}
          dot={p.valStar ? starDot : { r: p.rVal, fill: ORANGE, stroke: ORANGE, strokeWidth: 0 }}
          activeDot={false}
          isAnimationActive={false}
        />
        <ReferenceArea
          x1={p.xDomain[0]}
          x2={p.xDomain[1]}
          y1={p.yDomain[0]}
          y2={p.yDomain[1]}
          fill="none"
          fillOpacity={0}
          stroke="#262626"
          strokeWidth={1.2}
          ifOverflow="visible"
        />
      </LineChart>
    </div>
  );
}

function LegendBox({ p }: { p: Panel }) {
  const g = p.legend;
  const entries = [
    { label: 'Training', color: BLUE, star: false, r: p.rTrain },
    { label: 'Validation', color: ORANGE, star: p.valStar, r: p.rVal },
  ];
  const len = g.line[1] - g.line[0];
  return (
    <>
      <div
        style={{
          position: 'absolute',
          left: g.x,
          top: g.y,
          width: g.w,
          height: g.h,
          boxSizing: 'border-box',
          border: '1px solid #d0d0d0',
          borderRadius: 3,
          background: 'rgba(255,255,255,0.8)',
        }}
      />
      {entries.map((e, i) => (
        <React.Fragment key={e.label}>
          <svg
            style={{ position: 'absolute', left: g.line[0] - 6, top: g.rows[i] - 8 }}
            width={len + 12}
            height={16}
          >
            <line x1={6} x2={len + 6} y1={8} y2={8} stroke={e.color} strokeWidth={p.lw} />
            {e.star ? (
              <path d={starD(6 + len / 2, 8, e.r)} fill={e.color} stroke={e.color} strokeWidth={0.4} />
            ) : (
              <circle cx={6 + len / 2} cy={8} r={e.r} fill={e.color} />
            )}
          </svg>
          <span
            style={{
              position: 'absolute',
              left: g.textX,
              top: g.rows[i],
              transform: `translateY(-50%) scaleX(${g.sx})`,
              transformOrigin: 'left center',
              fontSize: g.fs,
              fontFamily: FONT,
              lineHeight: 1,
              whiteSpace: 'nowrap',
              color: INK,
            }}
          >
            {e.label}
          </span>
        </React.Fragment>
      ))}
    </>
  );
}

function AxisLabels({ p }: { p: Panel }) {
  const base: React.CSSProperties = {
    position: 'absolute',
    fontSize: p.labelFs,
    fontFamily: FONT,
    lineHeight: 1,
    whiteSpace: 'nowrap',
    color: INK,
  };
  return (
    <>
      <div
        style={{
          ...base,
          left: p.xLabelPos[0],
          top: p.xLabelPos[1],
          transform: `translate(-50%,-50%) scaleX(${p.labelSx})`,
        }}
      >
        Epoch
      </div>
      <div
        style={{
          ...base,
          left: p.yLabelPos[0],
          top: p.yLabelPos[1],
          transform: `translate(-50%,-50%) rotate(-90deg) scaleY(${p.labelSx})`,
        }}
      >
        {p.yLabel}
      </div>
    </>
  );
}

export default function App() {
  return (
    <div
      style={{
        position: 'absolute',
        left: 0,
        top: 0,
        width: 632,
        height: 1331,
        overflow: 'hidden',
        background: '#ffffff',
      }}
    >
      {panels.map((p) => (
        <React.Fragment key={p.id}>
          <PanelChart p={p} />
          <AxisLabels p={p} />
          <LegendBox p={p} />
        </React.Fragment>
      ))}
      {captions.map((c) => (
        <div
          key={c.text}
          style={{
            position: 'absolute',
            left: c.x,
            top: c.y,
            transform: 'translate(-50%,-50%)',
            fontFamily: SERIF,
            fontWeight: c.bold ? 700 : 400,
            fontSize: c.fs,
            lineHeight: 1,
            whiteSpace: 'nowrap',
            color: '#000',
          }}
        >
          {c.text}
        </div>
      ))}
    </div>
  );
}
